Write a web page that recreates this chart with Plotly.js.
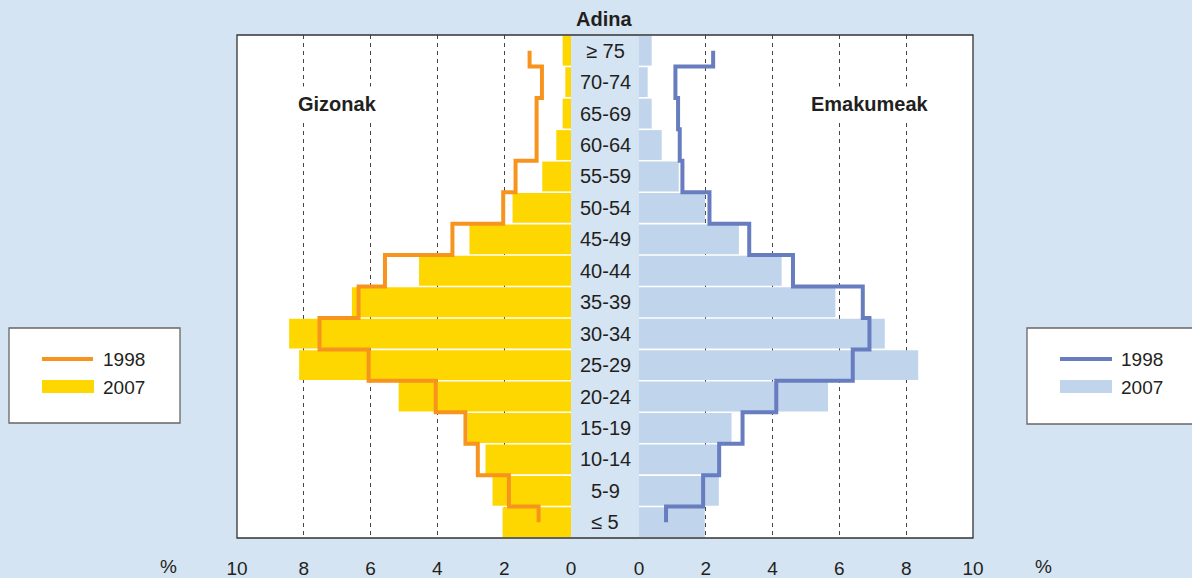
<!DOCTYPE html>
<html>
<head>
<meta charset="utf-8">
<script src="https://cdn.plot.ly/plotly-3.0.1.min.js"></script>
<style>
  html, body { margin: 0; padding: 0; background: #D5E4F3; }
  #chart { width: 1192px; height: 578px; }
</style>
</head>
<body>
<div id="chart"></div>
<script>
// ---- data ----
const ages = ["≤ 5","5-9","10-14","15-19","20-24","25-29","30-34","35-39","40-44","45-49","50-54","55-59","60-64","65-69","70-74","≥ 75"];
const men2007   = [2.05, 2.35, 2.56, 3.10, 5.16, 8.14, 8.44, 6.56, 4.55, 3.04, 1.75, 0.86, 0.44, 0.25, 0.17, 0.25];
const men1998   = [0.97, 1.86, 2.79, 3.16, 4.05, 6.06, 7.53, 6.36, 5.57, 3.55, 2.03, 1.66, 1.03, 1.03, 0.87, 1.24];
const women2007 = [1.97, 2.39, 2.38, 2.77, 5.66, 8.36, 7.36, 5.88, 4.27, 2.99, 1.98, 1.19, 0.68, 0.38, 0.26, 0.38];
const women1998 = [0.81, 1.92, 2.40, 3.10, 4.11, 6.40, 6.90, 6.70, 4.61, 3.30, 2.11, 1.30, 1.22, 1.17, 1.09, 2.22];
const tickVals = [0, 2, 4, 6, 8, 10];
const tickText = ["0", "2", "4", "6", "8", "10"];
const gridVals = [2, 4, 6, 8];
const seriesNames = ["1998", "2007"];
const axisTitle = "Adina";
const menLabel = "Gizonak";
const womenLabel = "Emakumeak";
const unitLabel = "%";

// ---- styles ----
const BG = "#D5E4F3";
const YELLOW = "#FFD700";
const ORANGE = "#F7941D";
const LBLUE = "#C0D4EC";
const DBLUE = "#677DC0";
const TXT = "#231F20";
const FONT = "Liberation Sans, Arial, sans-serif";

// geometry helpers (pixels -> paper)
const L = 237, R = 973, T = 35, B = 538;
const W = 1192, H = 578;
const px = p => (p - L) / (R - L);
const py = p => (B - p) / (B - T);

const traces = [
  { type: "bar", orientation: "h", y: ages, x: men2007, xaxis: "x", yaxis: "y",
    marker: { color: YELLOW, line: { width: 0 } }, name: seriesNames[1], showlegend: false },
  { type: "bar", orientation: "h", y: ages, x: women2007, xaxis: "x2", yaxis: "y",
    marker: { color: LBLUE, line: { width: 0 } }, name: seriesNames[1], showlegend: false },
  { type: "scatter", mode: "lines", y: ages, x: men1998, xaxis: "x", yaxis: "y",
    line: { color: ORANGE, width: 4, shape: "vhv" }, name: seriesNames[0], showlegend: false },
  { type: "scatter", mode: "lines", y: ages, x: women1998, xaxis: "x2", yaxis: "y",
    line: { color: DBLUE, width: 4, shape: "vhv" }, name: seriesNames[0], showlegend: false }
];

const xCommon = {
  tickmode: "array", tickvals: tickVals, ticktext: tickText,
  showgrid: false, zeroline: false, showline: false, ticks: "",
  ticklabelstandoff: 17,
  tickfont: { family: FONT, size: 19, color: TXT },
  minor: { tickmode: "array", tickvals: gridVals, showgrid: true, gridcolor: "#444",
           gridwidth: 1, griddash: "4px,4px", ticks: "" },
  fixedrange: true
};

const annotations = [];
ages.forEach((a, i) => {
  annotations.push({ xref: "paper", yref: "y", x: 0.5, y: i, text: a, showarrow: false,
    xanchor: "center", yanchor: "middle", font: { family: FONT, size: 20, color: TXT } });
});
annotations.push({ xref: "paper", yref: "paper", x: px(604), y: py(19), text: "<b>" + axisTitle + "</b>",
  showarrow: false, xanchor: "center", yanchor: "middle", font: { family: FONT, size: 20, color: TXT } });
annotations.push({ xref: "paper", yref: "paper", x: px(337.5), y: py(104), text: "<b>" + menLabel + "</b>",
  showarrow: false, xanchor: "center", yanchor: "middle", bgcolor: "white", borderpad: 6,
  font: { family: FONT, size: 20, color: TXT } });
annotations.push({ xref: "paper", yref: "paper", x: px(870), y: py(104), text: "<b>" + womenLabel + "</b>",
  showarrow: false, xanchor: "center", yanchor: "middle", bgcolor: "white", borderpad: 6,
  font: { family: FONT, size: 20, color: TXT } });
annotations.push({ xref: "paper", yref: "paper", x: px(168), y: py(578), text: unitLabel,
  showarrow: false, xanchor: "center", yanchor: "bottom", borderpad: 0, font: { family: FONT, size: 19, color: TXT } });
annotations.push({ xref: "paper", yref: "paper", x: px(1043), y: py(578), text: unitLabel,
  showarrow: false, xanchor: "center", yanchor: "bottom", borderpad: 0, font: { family: FONT, size: 19, color: TXT } });
// legend texts
[[101, 360, seriesNames[0]], [101, 387, seriesNames[1]], [1119, 360, seriesNames[0]], [1119, 387, seriesNames[1]]]
  .forEach(([x, y, t]) => annotations.push({ xref: "paper", yref: "paper", x: px(x), y: py(y), text: t,
    showarrow: false, xanchor: "left", yanchor: "middle", font: { family: FONT, size: 19, color: TXT } }));

const shapes = [
  // plot frame
  { type: "rect", xref: "paper", yref: "paper", x0: 0, x1: 1, y0: 0, y1: 1,
    line: { color: "#333", width: 1.3 }, layer: "above" },
  // legend boxes
  { type: "rect", xref: "paper", yref: "paper", x0: px(9), x1: px(180), y0: py(423), y1: py(328),
    line: { color: "#666", width: 1.3 }, fillcolor: "white", layer: "above" },
  { type: "rect", xref: "paper", yref: "paper", x0: px(1027), x1: px(1215), y0: py(424), y1: py(328),
    line: { color: "#666", width: 1.3 }, fillcolor: "white", layer: "above" },
  // legend samples
  { type: "line", xref: "paper", yref: "paper", x0: px(42), x1: px(93), y0: py(359), y1: py(359),
    line: { color: ORANGE, width: 4 }, layer: "above" },
  { type: "rect", xref: "paper", yref: "paper", x0: px(42), x1: px(94), y0: py(393), y1: py(380),
    line: { width: 0 }, fillcolor: YELLOW, layer: "above" },
  { type: "line", xref: "paper", yref: "paper", x0: px(1060), x1: px(1112), y0: py(359), y1: py(359),
    line: { color: DBLUE, width: 4 }, layer: "above" },
  { type: "rect", xref: "paper", yref: "paper", x0: px(1060), x1: px(1112), y0: py(393), y1: py(380),
    line: { width: 0 }, fillcolor: LBLUE, layer: "above" }
];

const layout = {
  width: W, height: H,
  margin: { l: L, r: W - R, t: T, b: H - B, pad: 0 },
  paper_bgcolor: BG, plot_bgcolor: "white",
  barmode: "overlay", bargap: 0.05,
  showlegend: false,
  font: { family: FONT, color: TXT },
  xaxis: Object.assign({}, xCommon, { domain: [0, (571 - L) / (R - L)], range: [10, 0], anchor: "y" }),
  xaxis2: Object.assign({}, xCommon, { domain: [(639 - L) / (R - L), 1], range: [0, 10], anchor: "y" }),
  yaxis: { type: "category", range: [-0.5, 15.5], showticklabels: false, showgrid: false,
           zeroline: false, showline: false, ticks: "", fixedrange: true },
  annotations: annotations,
  shapes: shapes
};

Plotly.newPlot("chart", traces, layout, { displayModeBar: false, staticPlot: true });
</script>
</body>
</html>
